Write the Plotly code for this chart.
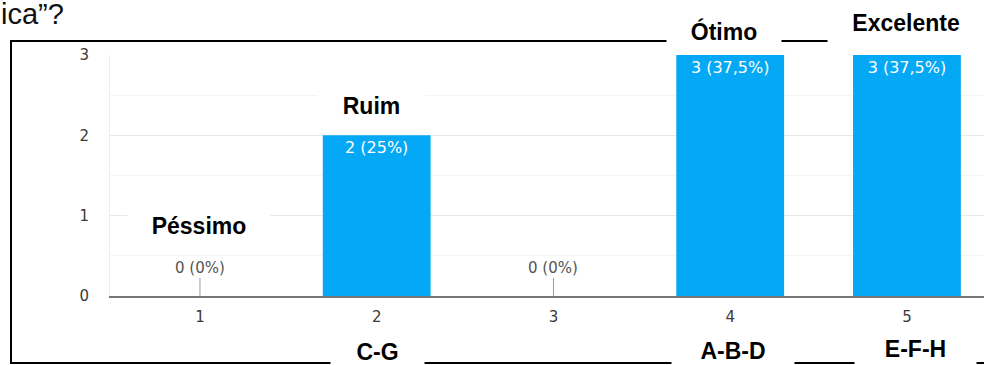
import plotly.graph_objects as go

# Responses per rating (1 = worst, 5 = best)
categories = [1, 2, 3, 4, 5]
counts = [0, 2, 0, 3, 3]
tick_labels = ["1", "2", "3", "4", "5"]
y_ticks = [0, 1, 2, 3]

# Rating names written above the bars and the respondent groups written under the axis
rating_names = ["Péssimo", "Ruim", "", "Ótimo", "Excelente"]
group_names = ["", "C-G", "", "A-B-D", "E-F-H"]
question_tail = "ica”?"

BAR_COLOR = "rgb(4,168,244)"
CHART_FONT = "DejaVu Sans"
LABEL_FONT = "Liberation Sans, Arial, sans-serif"

total = sum(counts)


def value_label(n):
    pct = f"{100 * n / total:.1f}".rstrip("0").rstrip(".").replace(".", ",")
    return f"{n} ({pct}%)"


labels = [value_label(n) for n in counts]

# Canvas and plot-area geometry (pixels)
W, H = 984, 365
M_L, M_R, M_T, M_B = 110, 0, 55, 69
PLOT_W = W - M_L - M_R
PLOT_H = H - M_T - M_B


def paper_x(px):
    return (px - M_L) / PLOT_W


def paper_y(py):
    return (H - M_B - py) / PLOT_H


fig = go.Figure()

fig.add_trace(go.Bar(
    x=categories,
    y=counts,
    width=0.61,
    marker=dict(color=BAR_COLOR, line=dict(width=0)),
    text=[lab if n > 0 else "" for lab, n in zip(labels, counts)],
    textposition="inside",
    insidetextanchor="end",
    textfont=dict(family=CHART_FONT, size=16, color="white"),
    hoverinfo="skip",
))

shapes = []
annotations = []

# Empty categories get a short stub on the axis and their label above it
for cat, n, lab in zip(categories, counts, labels):
    if n == 0:
        shapes.append(dict(
            type="line", xref="x", yref="y", ysizemode="pixel", yanchor=0,
            x0=cat, x1=cat, y0=0, y1=18,
            line=dict(color="#9a9a9a", width=1), layer="above",
        ))
        annotations.append(dict(
            x=cat, y=0, xref="x", yref="y", yanchor="bottom", yshift=17,
            text=lab, showarrow=False,
            font=dict(family=CHART_FONT, size=15, color="#555555"),
        ))

# Frame drawn around the chart
frame = dict(color="black", width=2)
shapes += [
    dict(type="line", xref="paper", yref="paper", x0=paper_x(11), x1=paper_x(11),
         y0=paper_y(40), y1=paper_y(364), line=frame, layer="above"),
    dict(type="line", xref="paper", yref="paper", x0=paper_x(10), x1=paper_x(995),
         y0=paper_y(41), y1=paper_y(41), line=frame, layer="above"),
    dict(type="line", xref="paper", yref="paper", x0=paper_x(10), x1=paper_x(995),
         y0=paper_y(363), y1=paper_y(363), line=frame, layer="above"),
]

# Bold labels on white boxes: (text, category, x shift, centre y px, box width, box height)
boxes = [
    (rating_names[0], categories[0], -1, 226, 142, 30),
    (rating_names[1], categories[1], -5, 106, 107, 30),
    (rating_names[3], categories[3], -6, 31, 114, 44),
    (rating_names[4], categories[4], -1, 23, 156, 44),
    (group_names[1], categories[1], 1, 352, 93, 28),
    (group_names[3], categories[3], 3, 351, 122, 28),
    (group_names[4], categories[4], 9, 349, 121, 30),
]
for text, cat, shift, cy, bw, bh in boxes:
    annotations.append(dict(
        x=cat, xref="x", xshift=shift, xanchor="center",
        y=paper_y(cy), yref="paper", yanchor="middle",
        text=f"<b>{text}</b>", showarrow=False,
        width=bw, height=bh, align="center", valign="middle",
        bgcolor="white", borderpad=0,
        font=dict(family=LABEL_FONT, size=23, color="black"),
    ))

# End of the survey question printed above the chart (compact box kept inside the page)
annotations.append(dict(
    x=paper_x(0), xref="paper", xanchor="left",
    y=paper_y(14), yref="paper", yanchor="middle",
    text=question_tail, showarrow=False, borderpad=0,
    width=66, height=26, align="left", valign="middle",
    font=dict(family=LABEL_FONT, size=29, color="#111111"),
))

fig.update_layout(
    width=W, height=H,
    margin=dict(l=M_L, r=M_R, t=M_T, b=M_B, pad=0),
    paper_bgcolor="white", plot_bgcolor="white",
    showlegend=False,
    bargap=0.39,
    shapes=shapes,
    annotations=annotations,
    xaxis=dict(
        range=[0.491, 5.436],
        tickmode="array", tickvals=categories, ticktext=tick_labels,
        showgrid=False, zeroline=False,
        showline=True, linecolor="#777777", linewidth=2,
        ticks="", ticklabelstandoff=6,
        tickfont=dict(family=CHART_FONT, size=15, color="#3a3a3a"),
        fixedrange=True,
    ),
    yaxis=dict(
        range=[0, 3],
        tickmode="array", tickvals=y_ticks, ticktext=[str(v) for v in y_ticks],
        showgrid=True, gridcolor="#e8e8e8", gridwidth=1,
        minor=dict(dtick=0.5, tick0=0, showgrid=True, gridcolor="#f4f4f4", ticks=""),
        zeroline=False,
        showline=True, linecolor="#ededed", linewidth=1,
        ticks="", ticklabelstandoff=17,
        tickfont=dict(family=CHART_FONT, size=15, color="#3a3a3a"),
        fixedrange=True,
    ),
)

fig.write_html("out.html")
